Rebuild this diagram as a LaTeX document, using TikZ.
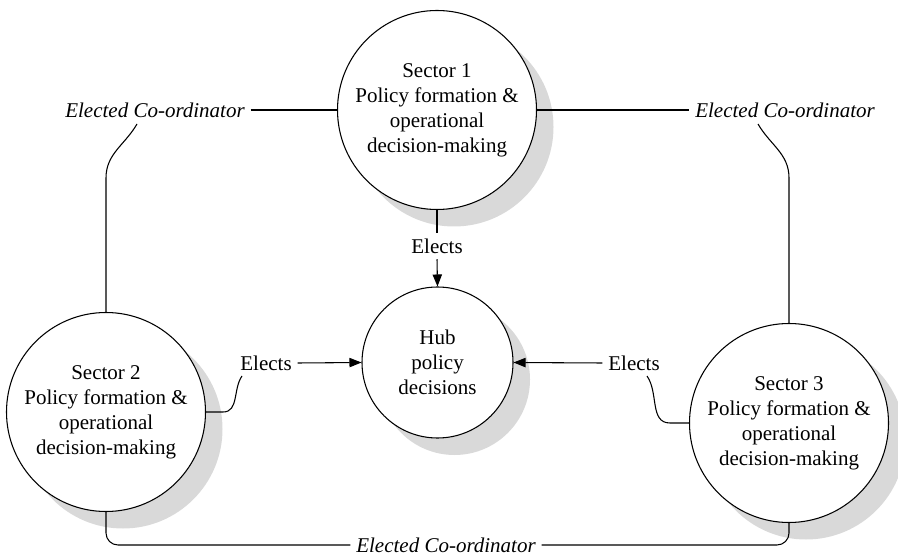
\documentclass[tikz,border=0pt]{standalone}
\usepackage{fontspec}
\setmainfont{Liberation Serif}
\usetikzlibrary{arrows.meta,shadows}

\begin{document}
\begin{tikzpicture}[x=0.75pt, y=-0.75pt, line width=0.8pt,
    every node/.style={font=\fontsize{15.75}{18.75}\selectfont},
    sector/.style={circle, draw, fill=white, align=center, inner sep=0pt, minimum size=149.25pt,
        drop shadow={shadow xshift=12.75pt, shadow yshift=-12.75pt, fill=black!15, opacity=1}},
    hubnode/.style={sector, minimum size=113.25pt},
    coordlabel/.style={font=\itshape\fontsize{15.75}{18.75}\selectfont, inner sep=4pt},
    electlabel/.style={inner sep=4pt},
    arr/.style={-{Triangle[length=9pt,width=7pt]}}]
    \useasboundingbox (0,0) rectangle (898,555);

    \node[sector] (S1) at (437,110) {Sector 1\\Policy formation \&\\operational\\decision-making};
    \node[sector] (S2) at (106,412) {Sector 2\\Policy formation \&\\operational\\decision-making};
    \node[sector] (S3) at (789,423) {Sector 3\\Policy formation \&\\operational\\decision-making};
    \node[hubnode] (Hub) at (437.5,362.5) {Hub\\policy\\decisions};

    \node[coordlabel] (C1) at (155,110) {Elected Co-ordinator};
    \node[coordlabel] (C2) at (785,110) {Elected Co-ordinator};
    \node[coordlabel] (C3) at (446,545) {Elected Co-ordinator};
    \node[electlabel] (E1) at (437,246) {Elects};
    \node[electlabel] (E2) at (266,363) {Elects};
    \node[electlabel] (E3) at (634,363) {Elects};

    \coordinate (c1) at (137,124);
    \coordinate (c2) at (758,124);
    \coordinate (e2) at (242,376);
    \coordinate (e3) at (647,376);

    % co-ordinators
    \draw (C1.east) -- (S1.west);
    \draw (S1.east) -- (C2.west);
    \draw (S2.north) -- ++(0,-134) to[out=90,in=240] (c1);
    \draw (S3.north) -- ++(0,-145) to[out=90,in=-60] (c2);
    \draw[rounded corners=9pt] (S2.south) |- (C3.west);
    \draw[rounded corners=9pt] (S3.south) |- (C3.east);

    % elections to the hub
    \draw (S1.south) -- (E1.north);
    \draw[arr] (E1.south) -- (Hub.north);
    \draw (S2.east) -- ++(17,0) to[out=0,in=235] (e2);
    \draw[arr] (E2.east) -- (Hub.west);
    \draw (S3.west) -- ++(-19,0) to[out=180,in=-55] (e3);
    \draw[arr] (E3.west) -- (Hub.east);
\end{tikzpicture}
\end{document}
